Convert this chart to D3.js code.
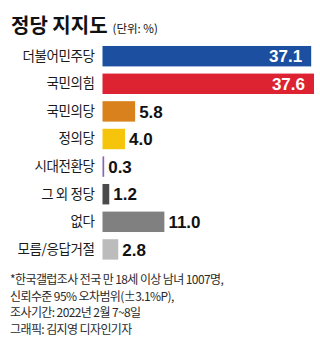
<!DOCTYPE html>
<html>
<head>
<meta charset="utf-8">
<script src="https://cdn.jsdelivr.net/npm/d3@7"></script>
<style>
  html, body { margin: 0; padding: 0; background: #fff; }
  svg { display: block; }
</style>
</head>
<body>
<div id="chart"></div>
<script>
// Data
const categories = ['더불어민주당', '국민의힘', '국민의당', '정의당', '시대전환당', '그 외 정당', '없다', '모름/응답거절'];
const values = [37.1, 37.6, 5.8, 4.0, 0.3, 1.2, 11.0, 2.8];
const colors = ['#1c4f9f', '#dd2331', '#d8811d', '#f6c40a', '#8667b5', '#4b4b4b', '#808080', '#bcbcbc'];
const insideLabels = [true, true, false, false, false, false, false, false];
const notes = [
    '*한국갤럽조사 전국 만 18세 이상 남녀 1007명,',
    '신뢰수준 95% 오차범위(±3.1%P),',
    '조사기간: 2022년 2월 7~8일',
    '그래픽: 김지영 디자인기자'
];

const width = 320, height = 345;
const krFont = '"Noto Sans CJK KR", "Noto Sans", sans-serif';
const numFont = '"Liberation Sans Narrow", "Liberation Sans", Arial, sans-serif';

const svg = d3.select('#chart')
    .append('svg')
    .attr('width', width)
    .attr('height', height);

// Title
const title = svg.append('text')
    .attr('x', 11)
    .attr('y', 33)
    .attr('fill', '#111')
    .style('font-family', krFont);
title.append('tspan')
    .style('font-size', '20px')
    .style('font-weight', 'bold')
    .text('정당 지지도');
title.append('tspan')
    .attr('dx', 5)
    .style('font-size', '11.5px')
    .text('(단위: %)');

// Scales
const xScale = d3.scaleLinear()
    .domain([0, 37.6])
    .range([102.5, 314]);

const yScale = d3.scaleBand()
    .domain(categories)
    .range([38.8, 266.8])
    .padding(0.26);

// Category axis
const axis = svg.append('g')
    .attr('transform', `translate(${xScale(0)},0)`)
    .call(d3.axisLeft(yScale).tickSize(0).tickPadding(8));
axis.select('.domain').remove();
axis.selectAll('text')
    .attr('fill', '#1a1a1a')
    .style('font-family', krFont)
    .style('font-size', '13.5px')
    .style('letter-spacing', '-0.4px');

// Bars
svg.selectAll('.bar')
    .data(values)
    .enter().append('rect')
    .attr('class', 'bar')
    .attr('x', xScale(0))
    .attr('y', (d, i) => yScale(categories[i]))
    .attr('width', d => xScale(d) - xScale(0))
    .attr('height', yScale.bandwidth())
    .attr('fill', (d, i) => colors[i]);

// Value labels
svg.selectAll('.value')
    .data(values)
    .enter().append('text')
    .attr('class', 'value')
    .attr('x', (d, i) => insideLabels[i] ? xScale(d) - 9 : xScale(d) + 4)
    .attr('y', (d, i) => yScale(categories[i]) + yScale.bandwidth() / 2)
    .attr('dy', '0.36em')
    .attr('text-anchor', (d, i) => insideLabels[i] ? 'end' : 'start')
    .attr('fill', (d, i) => insideLabels[i] ? '#fff' : '#111')
    .style('font-family', numFont)
    .style('font-weight', 'bold')
    .style('font-size', '17px')
    .text(d => d.toFixed(1));

// Footnote
svg.selectAll('.note')
    .data(notes)
    .enter().append('text')
    .attr('class', 'note')
    .attr('x', 10)
    .attr('y', (d, i) => 284 + i * 16.5)
    .attr('fill', '#2a2a2a')
    .style('font-family', krFont)
    .style('font-size', '12px')
    .style('letter-spacing', '-0.6px')
    .text(d => d);
</script>
</body>
</html>
